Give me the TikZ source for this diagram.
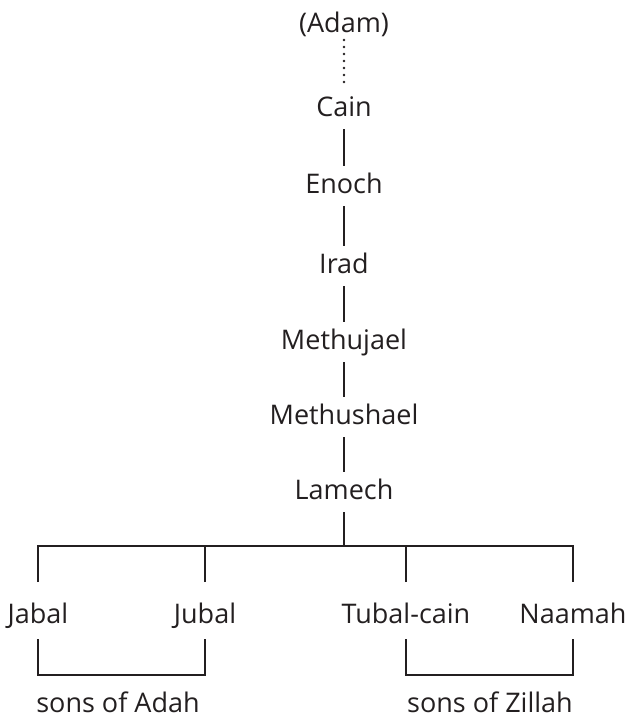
\documentclass[tikz,border=0pt]{standalone}
\usepackage{fontspec}
\setmainfont{Open Sans}
\definecolor{ink}{HTML}{231F20}

\begin{document}
\begin{tikzpicture}[x=1pt, y=-1pt, line width=2pt, color=ink,
    person/.style={font=\fontsize{27}{32}\selectfont, text height=21pt, text depth=7pt,
      inner xsep=0pt, inner ysep=5pt, anchor=base},
    child/.style={person, text height=32pt, inner ysep=8pt},
    dots/.style={line width=2.6pt, line cap=round, dash pattern=on 0pt off 7pt}]
    \useasboundingbox (0,0) rectangle (633,717);

    % line of Cain
    \node[person] (adam) at (344,33) {(Adam)};
    \node[person] (cain) at (344,116) {Cain};
    \node[person] (enoch) at (344,193) {Enoch};
    \node[person] (irad) at (344,273) {Irad};
    \node[person] (methujael) at (344,349) {Methujael};
    \node[person] (methushael) at (344,424) {Methushael};
    \node[person] (lamech) at (344,499) {Lamech};

    \draw[dots] ([yshift=6pt]adam.south) -- (cain.north);
    \foreach \a/\b in {cain/enoch, enoch/irad, irad/methujael,
        methujael/methushael, methushael/lamech}
      \draw (\a.south) -- (\b.north);

    % children of Lamech
    \node[child] (jabal) at (38,623) {Jabal};
    \node[child] (jubal) at (205,623) {Jubal};
    \node[child] (tubalcain) at (406,623) {Tubal-cain};
    \node[child] (naamah) at (573,623) {Naamah};

    \coordinate (bar) at (344,546);
    \draw (lamech.south) -- (bar);
    \draw (jabal.north) -- (jabal.north |- bar) -- (naamah.north |- bar) -- (naamah.north);
    \draw (jubal.north) -- (jubal.north |- bar);
    \draw (tubalcain.north) -- (tubalcain.north |- bar);

    % mothers
    \draw (jabal.south) -- ++(0,36) -| (jubal.south);
    \draw (tubalcain.south) -- ++(0,36) -| (naamah.south);
    \node[person] (adah) at (118,712) {sons of Adah};
    \node[person] (zillah) at (490,712) {sons of Zillah};
\end{tikzpicture}
\end{document}
